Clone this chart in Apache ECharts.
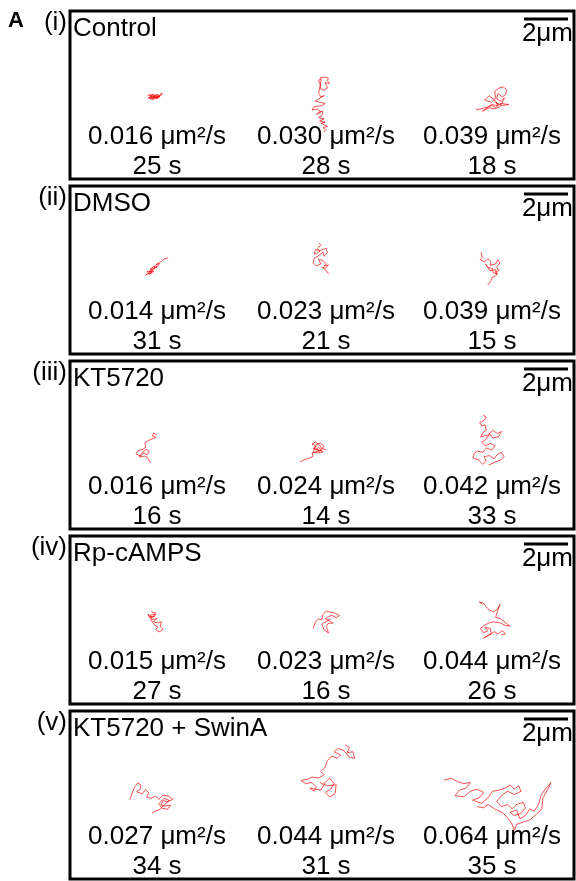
<!DOCTYPE html>
<html>
<head>
<meta charset="utf-8">
<script src="https://cdn.jsdelivr.net/npm/echarts@6/dist/echarts.min.js"></script>
<style>html,body{margin:0;padding:0;background:#fff}#c{width:576px;height:881px}</style>
</head>
<body>
<div id="c"></div>
<script>
// ---------- data ----------
const panelNumerals = ['(i)', '(ii)', '(iii)', '(iv)', '(v)'];
const panelTitles = ['Control', 'DMSO', 'KT5720', 'Rp-cAMPS', 'KT5720 + SwinA'];
const diffusionCoef = [ // µm²/s
  [0.016, 0.030, 0.039],
  [0.014, 0.023, 0.039],
  [0.016, 0.024, 0.042],
  [0.015, 0.023, 0.044],
  [0.027, 0.044, 0.064]
];
const trackDuration = [ // s
  [25, 28, 18],
  [31, 21, 15],
  [16, 14, 33],
  [27, 16, 26],
  [34, 31, 35]
];
const scaleBarLen = 2; // µm
const scaleBarLabel = '2μm';

// track start corners (µm, within each panel field of view)
const trackOrigins = [
  [[3.50, 3.73], [11.00, 3.00], [18.45, 3.45]],
  [[3.41, 3.27], [11.05, 2.59], [18.64, 3.00]],
  [[3.00, 3.27], [10.45, 3.68], [18.32, 2.45]],
  [[3.55, 3.45], [11.05, 3.36], [18.55, 3.00]],
  [[2.73, 3.27], [10.50, 1.55], [17.00, 3.05]]
];

// trajectories (µm, relative to track corner)
const trackI1 = [[0,0.15],[0.1,0.05],[0.2,0.2],[0.15,0.1],[0.3,0.05],[0.35,0.25],[0.25,0.3],[0.4,0.15],[0.5,0.1],[0.45,0.25],[0.55,0.2],[0.6,0.05],[0.7,0.0],[0.62,0.12],[0.5,0.18],[0.35,0.12],[0.2,0.25],[0.05,0.2],[0.15,0.28],[0.3,0.18],[0.45,0.05],[0.58,0.15],[0.4,0.22],[0.22,0.12],[0.1,0.22],[0.18,0.16],[0.28,0.24],[0.38,0.08],[0.48,0.2],[0.33,0.2],[0.12,0.12],[0.26,0.08],[0.42,0.28],[0.54,0.12]];
const trackI2 = [[0.35,0.05],[0.55,0.0],[0.75,0.05],[0.7,0.15],[0.78,0.3],[0.6,0.25],[0.7,0.5],[0.55,0.6],[0.4,0.55],[0.38,0.35],[0.3,0.15],[0.42,0.08],[0.35,0.5],[0.3,0.75],[0.4,0.9],[0.55,0.85],[0.3,1.0],[0.15,1.1],[0.35,1.15],[0.6,1.2],[0.45,1.3],[0.1,1.35],[0.0,1.5],[0.25,1.45],[0.4,1.6],[0.2,1.7],[0.3,1.6],[0.5,1.55],[0.45,1.75],[0.3,1.85],[0.25,1.9],[0.55,1.9],[0.35,2.0],[0.6,2.05],[0.4,2.1],[0.45,2.15],[0.7,2.25],[0.5,2.3],[0.62,2.4],[0.55,2.5]];
const trackI3 = [[0.0,1.05],[0.4,0.95],[0.75,0.85],[0.9,0.95],[1.1,0.75],[1.5,0.8],[1.2,0.85],[0.95,0.75],[0.8,0.55],[0.6,0.4],[0.4,0.6],[0.7,0.7],[0.9,0.5],[0.85,0.2],[1.05,0.05],[1.25,0.0],[1.4,0.15],[1.35,0.35],[1.2,0.45],[1.0,0.3],[0.95,0.55],[1.15,0.65],[1.3,0.5],[1.1,0.9],[0.85,1.0],[0.6,0.95],[0.3,1.1],[0.7,0.8],[1.0,0.85],[0.9,0.7],[1.05,0.8]];

const trackII1 = [[0.0,0.8],[0.15,0.7],[0.1,0.6],[0.3,0.65],[0.2,0.75],[0.35,0.55],[0.25,0.5],[0.45,0.5],[0.4,0.4],[0.55,0.45],[0.5,0.35],[0.3,0.45],[0.2,0.62],[0.4,0.6],[0.28,0.7],[0.12,0.72],[0.38,0.48],[0.6,0.35],[0.65,0.25],[0.5,0.3],[0.7,0.2],[0.8,0.1],[0.9,0.03],[1.05,0.0]];
const trackII2 = [[0.25,0.0],[0.35,0.1],[0.2,0.25],[0.3,0.35],[0.1,0.3],[0.05,0.5],[0.2,0.45],[0.4,0.3],[0.6,0.25],[0.65,0.45],[0.5,0.6],[0.45,0.4],[0.3,0.55],[0.05,0.7],[0.0,0.9],[0.15,1.05],[0.35,0.95],[0.25,0.75],[0.45,0.8],[0.6,0.95],[0.5,1.05],[0.7,1.0],[0.55,1.15],[0.4,1.1],[0.6,1.25],[0.7,1.4]];
const trackII3 = [[0.05,0.0],[0.1,0.25],[0.0,0.35],[0.2,0.45],[0.35,0.3],[0.5,0.45],[0.45,0.6],[0.7,0.55],[0.8,0.35],[0.9,0.5],[0.75,0.7],[0.85,0.85],[0.7,0.9],[0.8,1.0],[0.6,0.95],[0.55,0.75],[0.35,0.7],[0.25,0.55],[0.45,0.85],[0.7,0.8],[0.75,1.05],[0.55,1.15],[0.5,1.3],[0.35,1.5]];

const trackIII1 = [[0.95,0.1],[0.8,0.0],[0.75,0.15],[0.9,0.2],[0.55,0.35],[0.4,0.45],[0.45,0.65],[0.3,0.75],[0.1,0.8],[0.0,0.95],[0.2,1.05],[0.35,0.9],[0.5,1.0],[0.6,0.85],[0.45,0.75],[0.25,0.95],[0.15,1.1],[0.4,1.05],[0.55,1.15],[0.65,1.36]];
const trackIII2 = [[1.2,0.35],[1.0,0.3],[0.9,0.15],[0.7,0.0],[0.55,0.1],[0.75,0.2],[0.6,0.3],[0.85,0.35],[1.05,0.45],[0.8,0.5],[0.6,0.45],[0.75,0.1],[0.95,0.05],[1.1,0.2],[0.9,0.4],[0.7,0.35],[0.85,0.25],[1.0,0.38],[0.55,0.5],[0.6,0.65],[0.4,0.75],[0.2,0.8],[0.0,0.91]];
const trackIII3 = [[0.45,0.0],[0.6,0.1],[0.5,0.25],[0.3,0.35],[0.4,0.5],[0.55,0.45],[0.6,0.7],[0.45,0.8],[0.35,1.0],[0.7,0.9],[0.9,0.7],[1.1,0.85],[1.3,0.75],[1.15,1.0],[0.9,1.05],[0.75,0.85],[0.6,1.1],[0.4,1.25],[0.55,1.4],[0.8,1.3],[1.0,1.4],[0.85,1.6],[0.6,1.5],[0.45,1.7],[0.2,1.65],[0.05,1.75],[0.0,1.95],[0.25,2.05],[0.45,2.25],[0.6,2.1],[0.5,1.9],[0.75,1.85],[0.95,2.0],[1.1,1.8],[1.3,1.7],[1.4,1.9],[1.25,2.05],[1.0,2.15],[0.7,2.28]];

const trackIV1 = [[0.15,0.0],[0.35,0.05],[0.3,0.2],[0.05,0.25],[0.0,0.1],[0.2,0.35],[0.4,0.3],[0.25,0.45],[0.45,0.5],[0.6,0.45],[0.55,0.65],[0.68,0.8],[0.5,0.91],[0.35,0.8],[0.45,0.7],[0.3,0.6],[0.15,0.4],[0.1,0.15],[0.3,0.1],[0.22,0.25],[0.08,0.18]];
const trackIV2 = [[0.0,0.85],[0.1,0.55],[0.25,0.4],[0.4,0.45],[0.45,0.2],[0.6,0.05],[0.8,0.1],[1.0,0.15],[1.2,0.25],[1.05,0.35],[0.85,0.25],[0.7,0.3],[0.55,0.4],[0.75,0.5],[0.9,0.6],[0.7,0.6],[0.6,0.75],[0.7,1.05],[0.5,0.9],[0.4,0.65],[0.55,0.55],[0.8,0.4]];
const trackIV3 = [[0.2,0.1],[0.05,0.0],[0.25,0.05],[0.35,0.2],[0.5,0.35],[0.7,0.45],[0.9,0.3],[1.0,0.1],[0.85,0.5],[0.8,0.7],[1.0,0.75],[1.2,0.9],[1.45,1.1],[1.2,1.05],[1.0,0.95],[0.7,0.9],[0.5,0.95],[0.3,1.05],[0.1,1.2],[0.25,1.4],[0.45,1.3],[0.3,1.15],[0.55,1.2],[0.6,1.45],[0.4,1.55],[0.25,1.64],[0.5,1.5],[0.75,1.35],[0.9,1.45],[1.1,1.3],[1.25,1.45],[1.05,1.5]];

const trackV1 = [[0.0,0.75],[0.1,0.45],[0.2,0.2],[0.35,0.0],[0.5,0.1],[0.45,0.3],[0.3,0.4],[0.55,0.5],[0.7,0.3],[0.85,0.45],[0.75,0.65],[0.95,0.7],[1.15,0.6],[1.3,0.75],[1.5,0.55],[1.75,0.6],[1.95,0.75],[1.7,0.85],[1.5,0.8],[1.4,1.0],[1.6,1.05],[1.85,1.0],[1.7,1.2],[1.45,1.15],[1.3,0.95],[1.55,0.7],[1.8,0.8],[1.6,0.95],[1.35,1.2],[1.0,1.36]];
const trackV2 = [[2.0,0.0],[2.2,0.1],[2.1,0.35],[2.35,0.3],[2.45,0.6],[2.2,0.55],[1.95,0.25],[1.7,0.15],[1.5,0.3],[1.8,0.45],[1.65,0.6],[1.4,0.5],[1.2,0.7],[1.1,1.0],[0.9,1.2],[1.05,1.35],[0.8,1.5],[0.5,1.45],[0.3,1.55],[0.0,1.6],[0.2,1.75],[0.5,1.7],[0.7,1.9],[0.6,2.1],[0.4,1.95],[0.9,2.05],[1.1,1.7],[1.3,1.5],[1.5,1.75],[1.35,2.0],[1.1,2.15],[1.3,2.36],[1.55,2.2],[1.6,1.8],[1.2,1.85],[0.85,1.7]];
const trackV3 = [[0.0,0.1],[0.3,0.0],[0.6,0.15],[0.9,0.25],[1.2,0.2],[1.0,0.45],[0.7,0.55],[0.5,0.8],[0.9,0.85],[1.2,0.6],[1.5,0.5],[1.8,0.65],[1.6,0.9],[1.3,1.0],[1.7,1.15],[2.0,0.9],[2.2,0.6],[2.5,0.55],[2.8,0.45],[3.0,0.3],[3.2,0.5],[3.4,0.35],[3.5,0.6],[3.2,0.75],[2.9,0.6],[2.6,0.8],[2.4,1.05],[2.6,1.3],[2.9,1.2],[3.1,1.4],[3.3,1.2],[3.6,1.1],[3.7,1.35],[3.5,1.6],[3.2,1.7],[3.0,1.55],[3.3,1.45],[3.45,1.85],[3.7,1.7],[3.9,1.4],[4.1,1.5],[4.3,1.2],[4.4,0.8],[4.6,0.5],[4.86,0.2],[4.75,0.45],[4.5,0.9],[4.45,1.4],[4.2,1.65],[3.9,1.9],[3.6,2.0],[3.3,2.1],[3.2,2.36],[3.05,2.0],[2.7,1.6],[2.3,1.4],[2.0,1.2],[1.8,1.35],[1.5,1.3]];

const tracksByPanel = [
  [trackI1, trackI2, trackI3],
  [trackII1, trackII2, trackII3],
  [trackIII1, trackIII2, trackIII3],
  [trackIV1, trackIV2, trackIV3],
  [trackV1, trackV2, trackV3]
];

// ---------- layout ----------
const PX_PER_UM = 22;
const FONT = '"Liberation Sans", Arial, Helvetica, sans-serif';
const panelLeft = 70, panelWidth = 504, panelHeight = 168;
const panelTops = [11, 186, 361, 536, 711];
const colCenters = [157, 326, 492];

const grids = [], xAxes = [], yAxes = [], series = [], graphics = [];

graphics.push({type:'text', x: 8, y: 21, z: 10,
  style:{text:'A', fontSize: 22, fontWeight: 'bold', fontFamily: FONT, fill:'#000', textVerticalAlign:'middle'}});

panelTops.forEach((top, p) => {
  grids.push({left: panelLeft, top: top, width: panelWidth, height: panelHeight,
    show: true, borderColor: '#000', borderWidth: 3, backgroundColor: 'rgba(0,0,0,0)', containLabel: false});
  xAxes.push({type:'value', gridIndex:p, min:0, max: panelWidth / PX_PER_UM, show:false});
  yAxes.push({type:'value', gridIndex:p, min:0, max: panelHeight / PX_PER_UM, inverse:true, show:false});

  tracksByPanel[p].forEach((trk, k) => {
    const o = trackOrigins[p][k];
    series.push({
      type:'line', xAxisIndex:p, yAxisIndex:p, showSymbol:false, symbol:'none', silent:true,
      data: trk.map(pt => [o[0] + pt[0], o[1] + pt[1]]),
      lineStyle:{color:'rgba(245,0,0,0.85)', width:0.8}, z:3
    });
  });

  // scale bar
  const sbX = 454 / PX_PER_UM, sbY = 8 / PX_PER_UM;
  series.push({
    type:'line', xAxisIndex:p, yAxisIndex:p, symbol:'none', silent:true,
    data: [[sbX, sbY], [sbX + scaleBarLen, sbY]],
    lineStyle:{color:'#000', width:3, cap:'butt'}, z:4
  });

  const txt = (s, x, y, align) => graphics.push({type:'text', x: x, y: y, z: 10,
    style:{text:s, fontSize: 26, fontFamily: FONT, fill:'#000', textAlign: align, textVerticalAlign:'middle'}});

  txt(panelNumerals[p], 67, top + 21 - 9, 'right');
  txt(panelTitles[p], 73, top + 27 - 9, 'left');
  txt(scaleBarLabel, 573, top + 32 - 9, 'right');
  for (let k = 0; k < 3; k++) {
    txt(diffusionCoef[p][k].toFixed(3) + ' μm²/s', colCenters[k], top + 135 - 9, 'center');
    txt(trackDuration[p][k] + ' s', colCenters[k], top + 165 - 9, 'center');
  }
});

const chart = echarts.init(document.getElementById('c'), null, {renderer:'canvas'});
chart.setOption({
  animation:false,
  backgroundColor:'#fff',
  grid: grids, xAxis: xAxes, yAxis: yAxes, series: series, graphic: graphics
});
</script>
</body>
</html>
